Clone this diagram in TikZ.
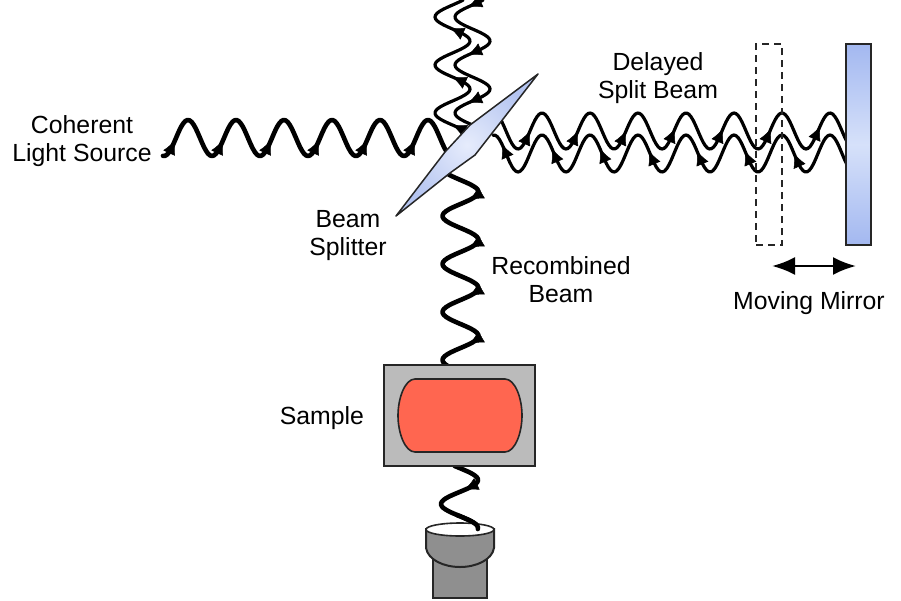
\documentclass[tikz,border=0pt]{standalone}
\usepackage{fontspec}
\setmainfont{Liberation Sans}
\usetikzlibrary{arrows, arrows.meta, calc, positioning}
\definecolor{mirrorblue}{HTML}{A3B8F0}
\definecolor{mirrorpale}{HTML}{D6E1FA}
\definecolor{lensblue}{HTML}{B4C4F0}
\definecolor{lenspale}{HTML}{E6ECFC}
\definecolor{samplegray}{HTML}{BBBBBB}
\definecolor{samplered}{HTML}{FF6650}
\definecolor{cupgray}{HTML}{8F8F8F}
\tikzset{
    beam/.style = {line width=3.2pt, line join=round, line cap=round},
    thickbeam/.style = {line width=4.6pt, line join=round, line cap=round},
    beamtip/.style = {-{Latex[length=14pt,width=13pt]}, line width=.5pt},
    label/.style = {font=\fontsize{24.8}{28}\selectfont, align=center, inner sep=0pt},
    mirror/.style = {draw=black!85, line width=1.6pt, minimum width=25pt, minimum height=201pt, inner sep=0pt},
    cup/.style = {draw=black!85, line width=2pt, fill=cupgray}
}
\newcommand{\beamhead}[2]{\draw[beamtip] ($#2!14.2pt!#1$) -- #2;}

\begin{document}
\begin{tikzpicture}[x=1pt, y=-1pt,
    declare function={wave(\t,\Peak)=cos(7.5*(\t-\Peak));}]
    \useasboundingbox (0,0) rectangle (901,600);

    % beams
    \draw[thickbeam] plot[domain=163:447, samples=140] (\x, {138-18*wave(\x,188)});
    \draw[beam] plot[domain=500:847, samples=170] (\x, {131-18*wave(\x,542)});
    \draw[beam] plot[domain=493:847, samples=170] (\x, {153.5-18.5*wave(\x,542)});
    \draw[beam] plot[domain=0:131, samples=70] ({452.5-17.5*wave(\x,17)}, \x);
    \draw[beam] plot[domain=0:125, samples=70] ({472.5-17.5*wave(\x,17)}, \x);
    \draw[thickbeam] plot[domain=172:366, samples=100] ({460.5+18*wave(\x,192)}, \x);
    \draw[thickbeam] plot[domain=466:529, samples=40] ({459.5+18.5*wave(\x,480)}, \x);

    % arrow heads on the beams
    \foreach \Tip in {172,220,268,316,364,412} {
        \beamhead{(\Tip-1, {138-18*wave(\Tip-1,188)})}{(\Tip+3, {138-18*wave(\Tip+3,188)})}
    }
    \foreach \Tip in {527,575,623,672,720,768,817} {
        \beamhead{(\Tip-1, {131-18*wave(\Tip-1,542)})}{(\Tip+3, {131-18*wave(\Tip+3,542)})}
    }
    \foreach \Tip in {505,555,603,652,700,748,797} {
        \beamhead{(\Tip+1, {153.5-18.5*wave(\Tip+1,542)})}{(\Tip-3, {153.5-18.5*wave(\Tip-3,542)})}
    }
    \foreach \Tip in {31,80,128} {
        \beamhead{({452.5-17.5*wave(\Tip+1,17)}, \Tip+1)}{({452.5-17.5*wave(\Tip-3,17)}, \Tip-3)}
    }
    \foreach \Tip in {4,52,100} {
        \beamhead{({472.5-17.5*wave(\Tip-1,17)}, \Tip-1)}{({472.5-17.5*wave(\Tip+3,17)}, \Tip+3)}
    }
    \foreach \Tip in {197,245,293,341} {
        \beamhead{({460.5+18*wave(\Tip-1,192)}, \Tip-1)}{({460.5+18*wave(\Tip+3,192)}, \Tip+3)}
    }
    \beamhead{({459.5+18.5*wave(486,480)}, 486)}{({459.5+18.5*wave(490,480)}, 490)}

    % beam splitter
    \draw[line width=1.5pt, line join=round, draw=black!85, inner color=lenspale, outer color=lensblue]
        (538,74) -- (500,123) -- (475,155) -- (450,173) -- (396,216) -- (445,152) -- (470,125) -- cycle;

    % mirrors
    \node[mirror, shade, top color=mirrorblue, bottom color=mirrorblue, middle color=mirrorpale] (mirror) at (858.5,144.5) {};
    \node[mirror, dash pattern=on 7pt off 5pt, minimum width=26pt] (ghost) at (769,144.5) {};
    \coordinate (travelL) at (772,266);
    \coordinate (travelR) at (856,266);
    \draw[{Latex[length=23pt,width=18pt]}-{Latex[length=23pt,width=18pt]}, line width=2.6pt] (travelL) -- (travelR);

    % sample
    \node[draw=black!85, line width=1.6pt, fill=samplegray, minimum width=151pt, minimum height=101pt, inner sep=0pt] (sample) at (459.5,415.5) {};
    \draw[line width=1.6pt, draw=black!85, fill=samplered]
        (415,379) -- (505,379) .. controls (515,379) and (522,398) .. (522,415.5)
        .. controls (522,433) and (515,452) .. (505,452) -- (415,452)
        .. controls (405,452) and (398,433) .. (398,415.5)
        .. controls (398,398) and (405,379) .. (415,379) -- cycle;

    % detector
    \draw[cup] (433,555) rectangle (487,598);
    \draw[cup] (426,529) -- (426,548) .. controls (428,560) and (444,567) .. (460,567)
        .. controls (476,567) and (492,560) .. (494,548) -- (494,529) -- cycle;
    \draw[line width=1.6pt, draw=black!85, fill=white] (460,529.5) ellipse [x radius=34, y radius=6.5];
    \draw[thickbeam] plot[domain=515:529, samples=10] ({459.5+18.5*wave(\x,480)}, \x);

    % labels
    \node[label] (source) at (82,141) {Coherent\\Light Source};
    \node[label] (splitter) at (348,236) {Beam\\Splitter};
    \node[label] (recombined) at (561,280) {Recombined\\Beam};
    \node[label] (delayed) at (658,78) {Delayed\\Split Beam};
    \node[label] (moving) at (809,303) {Moving Mirror};
    \node[label, left=19pt of sample, yshift=-3pt] (samplelabel) {Sample};
\end{tikzpicture}
\end{document}
